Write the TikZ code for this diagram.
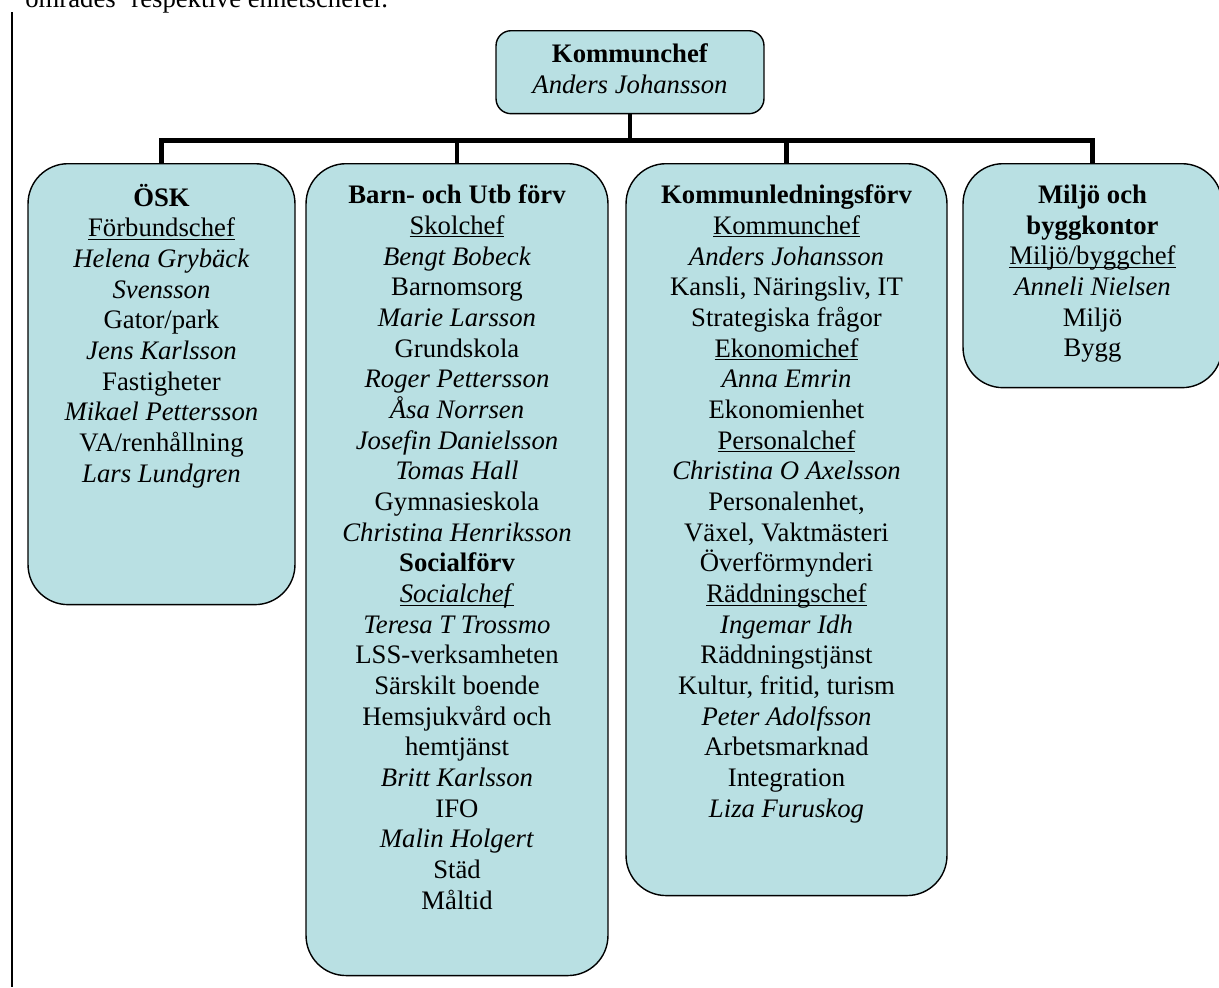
\documentclass[tikz,border=0pt]{standalone}
\usepackage{fontspec}
\setmainfont{Liberation Serif}
\usetikzlibrary{positioning}
\definecolor{unitfill}{RGB}{185,224,227}
\newcommand\uln[1]{\underline{\smash{#1}}}

\begin{document}
\begin{tikzpicture}[x=0.02cm,y=-0.02cm]
\tikzset{execute at begin node=\strut}
\tikzset{every node/.style={font=\fontsize{15.2}{17.46}\selectfont}}
\tikzset{unit/.style={draw,line width=0.8pt,fill=unitfill,rounded corners=0.8cm,anchor=north,inner sep=0pt}}
\tikzset{chief/.style={unit,rounded corners=0.3cm}}
\tikzset{txt/.style={align=center,inner sep=0pt}}
\tikzset{conn/.style={line width=2.8pt}}
\useasboundingbox (0,0) rectangle (1219,987);
\clip (0,0) rectangle (1219,987);
% text above the chart, cut at the top
\node[anchor=base west,inner sep=0pt] (intro) at (25,8) {områdes’ respektive enhetschefer.};
\draw[line width=1pt] (12,12) coordinate (margin) -- (12,987) coordinate (marginend);
% boxes
\node[chief,minimum width=5.36cm,minimum height=1.66cm] (top) at (630,30) {};
\node[unit,minimum width=5.34cm,minimum height=8.82cm] (osk) at (161.5,163) {};
\node[unit,minimum width=6.04cm,minimum height=16.24cm] (barn) at (457,163) {};
\node[unit,minimum width=6.42cm,minimum height=14.64cm] (kled) at (786.5,163) {};
\node[unit,minimum width=5.18cm,minimum height=4.48cm] (miljo) at (1092.5,163) {};
% connectors
\foreach \b in {osk,barn,kled,miljo}
  \draw[conn] (top.south) -- ++(0,26) -| (\b.north);
% texts
\node[txt,below=0.27cm of top.north] (toptext)
  {\textbf{Kommunchef}\\ \textit{Anders Johansson}};
\node[txt,below=0.41cm of osk.north] (osktext)
  {\textbf{ÖSK}\\ \uln{Förbundschef}\\ \textit{Helena Grybäck}\\ \textit{Svensson}\\
   Gator/park\\ \textit{Jens Karlsson}\\ Fastigheter\\ \textit{Mikael Pettersson}\\
   VA/renhållning\\ \textit{Lars Lundgren}};
\node[txt,below=0.43cm of barn.north] (barntext)
  {\textbf{Barn- och Utb förv}\\ \uln{Skolchef}\\ \textit{Bengt Bobeck}\\ Barnomsorg\\
   \textit{Marie Larsson}\\ Grundskola\\ \textit{Roger Pettersson}\\ \textit{Åsa Norrsen}\\
   \textit{Josefin Danielsson}\\ \textit{Tomas Hall}\\ Gymnasieskola\\
   \textit{Christina Henriksson}\\ \textbf{Socialförv}\\ \uln{\textit{Socialchef}}\\
   \textit{Teresa T Trossmo}\\ LSS-verksamheten\\ Särskilt boende\\ Hemsjukvård och\\
   hemtjänst\\ \textit{Britt Karlsson}\\ IFO\\ \textit{Malin Holgert}\\ Städ\\ Måltid};
\node[txt,below=0.43cm of kled.north] (kledtext)
  {\textbf{Kommunledningsförv}\\ \uln{Kommunchef}\\ \textit{Anders Johansson}\\
   Kansli, Näringsliv, IT\\ Strategiska frågor\\ \uln{Ekonomichef}\\ \textit{Anna Emrin}\\
   Ekonomienhet\\ \uln{Personalchef}\\ \textit{Christina O Axelsson}\\ Personalenhet,\\
   Växel, Vaktmästeri\\ Överförmynderi\\ \uln{Räddningschef}\\ \textit{Ingemar Idh}\\
   Räddningstjänst\\ Kultur, fritid, turism\\ \textit{Peter Adolfsson}\\ Arbetsmarknad\\
   Integration\\ \textit{Liza Furuskog}};
\node[txt,below=0.43cm of miljo.north] (miljotext)
  {\textbf{Miljö och}\\ \textbf{byggkontor}\\ \uln{Miljö/byggchef}\\
   \textit{Anneli Nielsen}\\ Miljö\\ Bygg};
\end{tikzpicture}
\end{document}
